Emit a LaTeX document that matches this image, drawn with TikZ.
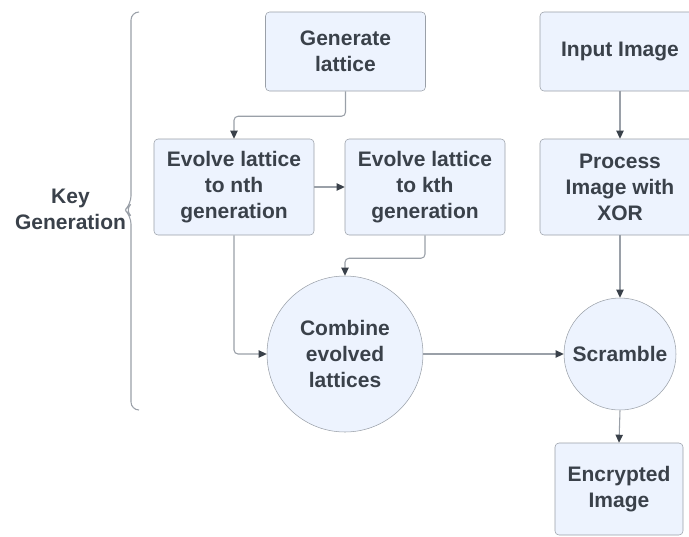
\documentclass[tikz,border=0pt]{standalone}
\usepackage{fontspec}
\setmainfont{Liberation Sans}
\usetikzlibrary{arrows.meta}

\definecolor{boxfill}{HTML}{EDF3FE}
\definecolor{boxline}{HTML}{9AA0A8}
\definecolor{ink}{HTML}{3A414A}

\begin{document}
\begin{tikzpicture}[x=0.75pt,y=-0.75pt,
    font=\bfseries\fontsize{15.75}{19.5}\selectfont,
    box/.style={draw=boxline, fill=boxfill, rounded corners=3pt, text=ink,
      align=center, minimum width=120pt, inner sep=0pt},
    bubble/.style={draw=boxline, fill=boxfill, circle, text=ink,
      align=center, inner sep=0pt},
    arr/.style={draw=boxline, line width=0.8pt, rounded corners=3pt,
      -{Triangle[length=6pt,width=5.5pt,color=ink]}}]
  \useasboundingbox (0,0) rectangle (689,536);

  % Key generation side
  \node[box, minimum height=59.25pt] (gen) at (345.5,51.5) {Generate\\lattice};
  \node[box, minimum height=72pt] (nth) at (234,187) {Evolve lattice\\to nth\\generation};
  \node[box, minimum height=72pt] (kth) at (425,187) {Evolve lattice\\to kth\\generation};
  \node[bubble, minimum size=117pt] (comb) at (345,354) {Combine\\evolved\\lattices};

  % Image side
  \node[box, minimum height=59.25pt] (input) at (620,51.5) {Input Image};
  \node[box, minimum height=72pt] (proc) at (620,187) {Process\\Image with\\XOR};
  \node[bubble, minimum size=84pt] (scr) at (620,354) {Scramble};
  \node[box, minimum width=96pt, minimum height=69pt] (enc) at (619,489) {Encrypted\\Image};

  % Brace and its label
  \node[text=ink, align=center] (keylbl) at (70.5,209) {Key\\Generation};
  \draw[boxline, line width=0.8pt, rounded corners=6pt]
    (139,12) -- (131,12) -- (131,204) -- (125,210) -- (131,216) -- (131,410) -- (139,410);

  % Connectors
  \draw[arr] (gen.south) -- ++(0,25) -| (nth.north);
  \draw[arr] (nth.east) -- (kth.west);
  \draw[arr] (kth.south) -- ++(0,23) -| (comb.north);
  \draw[arr] (nth.south) |- (comb.west);
  \draw[arr] (comb.east) -- (scr.west);
  \draw[arr] (input.south) -- (proc.north);
  \draw[arr] (proc.south) -- (scr.north);
  \draw[arr] (scr.south) -- (enc.north);
\end{tikzpicture}
\end{document}
